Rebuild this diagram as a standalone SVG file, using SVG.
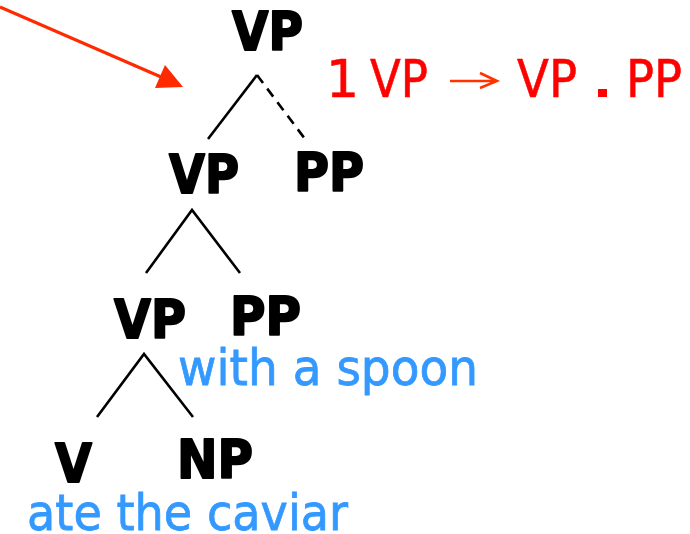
<svg xmlns="http://www.w3.org/2000/svg" width="690" height="534" viewBox="0 0 690 534">
<style>
.cat{font-family:"DejaVu Sans",Verdana,sans-serif;font-weight:bold;font-size:54px;fill:#000;stroke:#000;stroke-width:2;stroke-linejoin:round}
.word{font-family:"DejaVu Sans",Verdana,sans-serif;font-size:50px;fill:#3399ff;stroke:#3399ff;stroke-width:0.8}
.rule{font-family:"DejaVu Sans",Verdana,sans-serif;font-size:52px;fill:#ff0000;stroke:#ff0000;stroke-width:0.6}
.edge{stroke:#000;stroke-width:2.6;fill:none}
</style>
<rect width="690" height="534" fill="#fff"/>
<g id="pointer">
<line x1="0" y1="7" x2="168" y2="80" stroke="#ff2a00" stroke-width="3"/>
<polygon points="183,87 155,88 165,65" fill="#ff2a00"/>
</g>
<g id="rule">
<text class="rule" x="326" y="97">1</text>
<text class="rule" x="370" y="97" textLength="58" lengthAdjust="spacingAndGlyphs">VP</text>
<path d="M450,81 H497 M480,73 L497,81 L480,88" stroke="#ff3300" stroke-width="2.5" fill="none"/>
<text class="rule" x="517" y="97" textLength="60" lengthAdjust="spacingAndGlyphs">VP</text>
<rect x="598" y="89" width="9" height="8" fill="#ff0000"/>
<text class="rule" x="626" y="97" textLength="56" lengthAdjust="spacingAndGlyphs">PP</text>
</g>
<g id="connectors">
<polyline class="edge" points="208,139 257,75"/>
<polyline class="edge" points="257,75 305,139" stroke-dasharray="10,7"/>
<polyline class="edge" points="146,273 192,210 240,273"/>
<polyline class="edge" points="97,417 144,354 193,417"/>
</g>
<g id="vp-top"><text class="cat" x="232" y="50" textLength="71" lengthAdjust="spacingAndGlyphs">VP</text></g>
<g id="vp-2"><text class="cat" x="169" y="193" textLength="70" lengthAdjust="spacingAndGlyphs">VP</text></g>
<g id="pp-2"><text class="cat" x="294" y="191" textLength="70" lengthAdjust="spacingAndGlyphs">PP</text></g>
<g id="vp-3"><text class="cat" x="114" y="338" textLength="72" lengthAdjust="spacingAndGlyphs">VP</text></g>
<g id="pp-3"><text class="cat" x="230" y="335" textLength="71" lengthAdjust="spacingAndGlyphs">PP</text></g>
<g id="pp-words"><text class="word" x="178" y="385" textLength="300" lengthAdjust="spacingAndGlyphs">with a spoon</text></g>
<g id="v"><text class="cat" x="55" y="482" textLength="37" lengthAdjust="spacingAndGlyphs">V</text></g>
<g id="np"><text class="cat" x="177" y="478" textLength="76" lengthAdjust="spacingAndGlyphs">NP</text></g>
<g id="v-words"><text class="word" x="27" y="530" textLength="321" lengthAdjust="spacingAndGlyphs">ate the caviar</text></g>
</svg>
